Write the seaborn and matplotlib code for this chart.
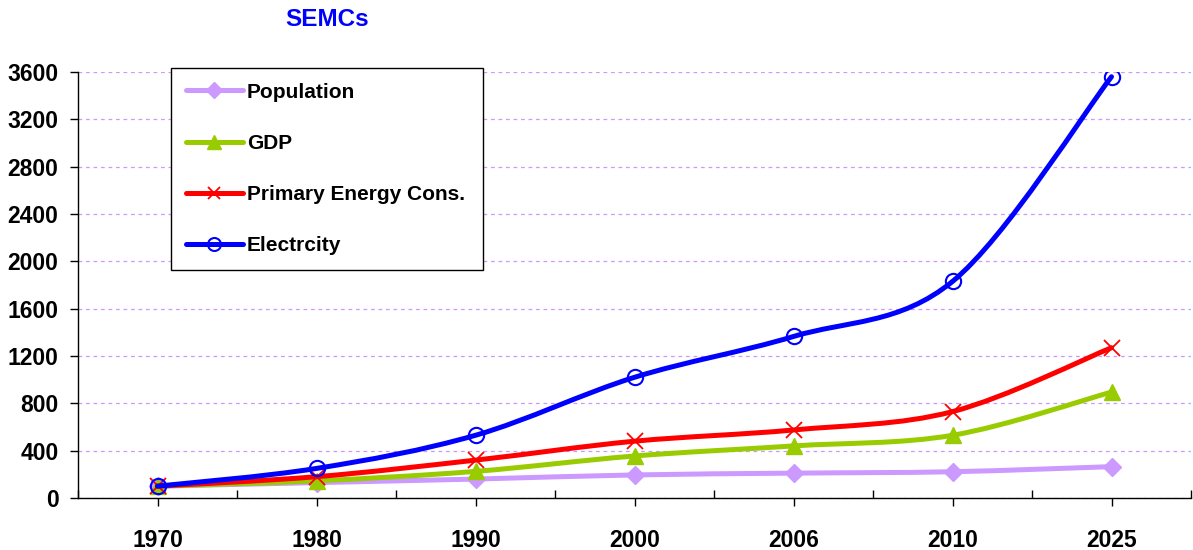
import numpy as np
import pandas as pd
import seaborn as sns
import matplotlib
matplotlib.use('Agg')
import matplotlib.pyplot as plt
from matplotlib.path import Path
from matplotlib.patches import PathPatch
from matplotlib.lines import Line2D

# data (index, 1970 = 100)
years = ['1970', '1980', '1990', '2000', '2006', '2010', '2025']
population = [100, 130, 160, 195, 210, 222, 265]
gdp = [100, 145, 225, 355, 440, 530, 895]
primary_energy = [100, 180, 320, 480, 575, 730, 1270]
electricity = [100, 250, 530, 1020, 1365, 1830, 3560]

series_names = ['Population', 'GDP', 'Primary Energy Cons.', 'Electrcity']
series_values = [population, gdp, primary_energy, electricity]


def smooth_path(x, y):
    """Excel-like smoothed line: cubic bezier through the points (catmull-rom)"""
    pts = np.column_stack([x, y]).astype(float)
    verts = [pts[0]]
    codes = [Path.MOVETO]
    n = len(pts)
    for i in range(n - 1):
        p0 = pts[i - 1] if i > 0 else pts[i]
        p1 = pts[i]
        p2 = pts[i + 1]
        p3 = pts[i + 2] if i + 2 < n else pts[i + 1]
        verts += [p1 + (p2 - p0) / 6, p2 - (p3 - p1) / 6, p2]
        codes += [Path.CURVE4] * 3
    return Path(verts, codes)


sns.set_style('white')
plt.rcParams['font.family'] = ['Liberation Sans', 'DejaVu Sans']
plt.rcParams['font.weight'] = 'bold'
plt.rcParams['text.color'] = 'black'
plt.rcParams['xtick.color'] = 'black'
plt.rcParams['ytick.color'] = 'black'

df = pd.DataFrame({
    'year': np.tile(years, len(series_names)),
    'pos': np.tile(np.arange(len(years)), len(series_names)),
    'series': np.repeat(series_names, len(years)),
    'value': np.concatenate(series_values),
})

styles = {
    'Population': dict(color='#CC99FF', marker='D', ms=9, mfc='#CC99FF', mec='#CC99FF', mew=1),
    'GDP': dict(color='#99CC00', marker='^', ms=12, mfc='#99CC00', mec='#99CC00', mew=1),
    'Primary Energy Cons.': dict(color='#FF0000', marker='x', ms=11, mfc='#FF0000', mec='#FF0000', mew=1.3),
    'Electrcity': dict(color='#0000FF', marker='o', ms=11, mfc='none', mec='#0000FF', mew=1.5),
}

fig = plt.figure(figsize=(11.93, 5.5), dpi=100)
ax = fig.add_axes([78 / 1193, 52 / 550, 1113 / 1193, 426 / 550])

handles = []
for i, name in enumerate(series_names):
    sub = df[df['series'] == name]
    st = styles[name]
    patch = PathPatch(smooth_path(sub['pos'], sub['value']), facecolor='none',
                      edgecolor=st['color'], lw=3.6, capstyle='round',
                      joinstyle='round', zorder=2 + i)
    ax.add_patch(patch)
    sns.lineplot(data=sub, x='pos', y='value', ax=ax, linestyle='none',
                 marker=st['marker'], markersize=st['ms'],
                 markerfacecolor=st['mfc'], markeredgecolor=st['mec'],
                 markeredgewidth=st['mew'], zorder=2.5 + i, legend=False)
    handles.append(Line2D([], [], color=st['color'], lw=3.6, marker=st['marker'],
                          markersize=st['ms'] * 0.85, markerfacecolor=st['mfc'],
                          markeredgecolor=st['mec'], markeredgewidth=st['mew'],
                          label=name))

ax.set_xlim(-0.5, len(years) - 0.5)
ax.set_ylim(0, 3600)
ax.set_yticks(np.arange(0, 3601, 400))
ax.set_xticks(np.arange(len(years)))
ax.set_xticklabels(years)
ax.set_xticks(np.arange(-0.5, len(years), 1), minor=True)
ax.set_xlabel('')
ax.set_ylabel('')

ax.yaxis.grid(True, linestyle=(0, (3, 3)), color='#CC99FF', lw=0.9)
ax.set_axisbelow(True)
for s in ['top', 'right']:
    ax.spines[s].set_visible(False)
for s in ['left', 'bottom']:
    ax.spines[s].set_color('black')
    ax.spines[s].set_linewidth(1)

ax.tick_params(axis='x', which='major', direction='out', length=6, width=1,
               pad=16, labelsize=16.5, bottom=True)
ax.tick_params(axis='x', which='minor', direction='in', length=6, width=1, bottom=True)
ax.tick_params(axis='y', direction='out', length=6, width=1, pad=8, labelsize=16.5, left=True)
for lab in ax.get_xticklabels() + ax.get_yticklabels():
    lab.set_fontweight('bold')

fig.text(327 / 1193, 1 - 20 / 550, 'SEMCs', ha='center', va='center',
         color='#0000FF', fontsize=17.5, fontweight='bold')

leg = fig.legend(handles=handles, loc='upper left',
                 bbox_to_anchor=(171 / 1193, 0.3, 312 / 1193, 0.7 - 68 / 550),
                 bbox_transform=fig.transFigure, mode='expand',
                 frameon=True, fancybox=False, edgecolor='black', framealpha=1,
                 prop={'size': 15, 'weight': 'bold'}, handlelength=2.75,
                 handletextpad=0.2, labelspacing=1.55, borderpad=0.7,
                 borderaxespad=0)
leg.get_frame().set_linewidth(1)

fig.savefig('out.png', dpi=100)
